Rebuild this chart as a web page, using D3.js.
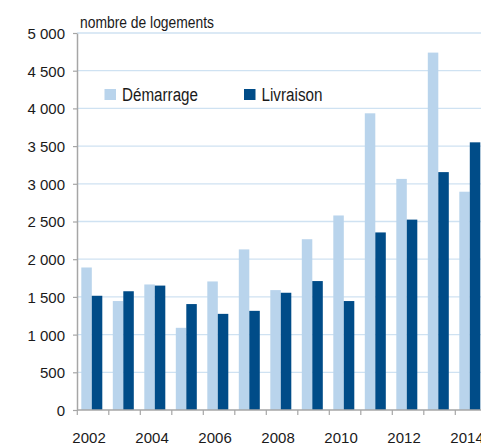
<!DOCTYPE html>
<html><head><meta charset="utf-8">
<script src="https://cdn.jsdelivr.net/npm/d3@7"></script>
<style>body{margin:0;background:#fff}svg{display:block}text{font-family:"Liberation Sans",Arial,Helvetica,sans-serif;fill:#1a1a1a}</style>
</head><body><svg id="c" width="481" height="445"></svg>
<script>
const years = ["2002","2003","2004","2005","2006","2007","2008","2009","2010","2011","2012","2013","2014"];
const demarrage = [1890,1445,1665,1090,1705,2130,1590,2265,2580,3935,3065,4740,2895];
const livraison = [1515,1575,1650,1405,1275,1315,1555,1710,1445,2355,2525,3155,3550];
const yTicks = [0,500,1000,1500,2000,2500,3000,3500,4000,4500,5000];
const xLabels = ["2002","2004","2006","2008","2010","2012","2014"];
const seriesNames = ["Démarrage","Livraison"];
const colors = ["#b9d4ec","#004c88"];

const svg = d3.select("#c");
const x = d3.scaleBand().domain(years).range([77.3, 77.3 + 13*31.5]).padding(0);
const xSub = d3.scaleBand().domain([0,1]).range([4, 25]).padding(0);
const y = d3.scaleLinear().domain([0,5000]).range([410, 33]);
const fmt = v => d3.format(",")(v).replace(/,/g, " ");

// gridlines
svg.append("g").selectAll("line").data(yTicks.filter(d=>d>0)).join("line")
  .attr("x1", 77).attr("x2", 481).attr("y1", d=>y(d)).attr("y2", d=>y(d))
  .attr("stroke", "#cfe2f2").attr("stroke-width", 1.3);

// bars
const series = [demarrage, livraison];
const g = svg.append("g");
series.forEach((vals, si) => {
  g.selectAll(".s"+si).data(vals).join("rect")
    .attr("x", (d,i)=>x(years[i]) + xSub(si))
    .attr("width", xSub.bandwidth())
    .attr("y", d=>y(d)).attr("height", d=>y(0)-y(d))
    .attr("fill", colors[si]);
});

// y axis
const yAxis = svg.append("g").attr("transform","translate(77,0)")
  .call(d3.axisLeft(y).tickValues(yTicks).tickFormat(fmt).tickSize(4).tickSizeOuter(0));
yAxis.select(".domain").attr("stroke","#a6a6a6").attr("stroke-width",1.5);
yAxis.selectAll(".tick line").attr("stroke","#a6a6a6").attr("stroke-width",1.2);
yAxis.selectAll(".tick text").attr("font-size",15).attr("x",-12).attr("dy","0.36em")
  .style("font-family",'"Liberation Sans",Arial,sans-serif').attr("fill","#1a1a1a");

// x axis
const xAxisG = svg.append("g");
xAxisG.append("line").attr("x1",77).attr("x2",481).attr("y1",y(0)).attr("y2",y(0))
  .attr("stroke","#a6a6a6").attr("stroke-width",1.5);
xAxisG.selectAll(".xt").data(years).join("line")
  .attr("x1",d=>x(d)).attr("x2",d=>x(d)).attr("y1",y(0)).attr("y2",y(0)+5)
  .attr("stroke","#a6a6a6").attr("stroke-width",1.2);
xAxisG.selectAll(".xl").data(xLabels).join("text")
  .attr("x",d=>x(d)+x.bandwidth()/2-4).attr("y",443)
  .attr("text-anchor","middle").attr("font-size",15).text(d=>d);

// title
svg.append("text").attr("x",80).attr("y",28).attr("font-size",16)
  .attr("textLength",134).attr("lengthAdjust","spacingAndGlyphs")
  .text("nombre de logements");

// legend
const legX = [104.5, 244];
const legW = [76, 61];
seriesNames.forEach((n,i)=>{
  svg.append("rect").attr("x",legX[i]).attr("y",89).attr("width",11.5).attr("height",11).attr("fill",colors[i]);
  svg.append("text").attr("x",legX[i]+17.5).attr("y",100.5).attr("font-size",18)
    .attr("textLength",legW[i]).attr("lengthAdjust","spacingAndGlyphs").text(n);
});
</script></body></html>
